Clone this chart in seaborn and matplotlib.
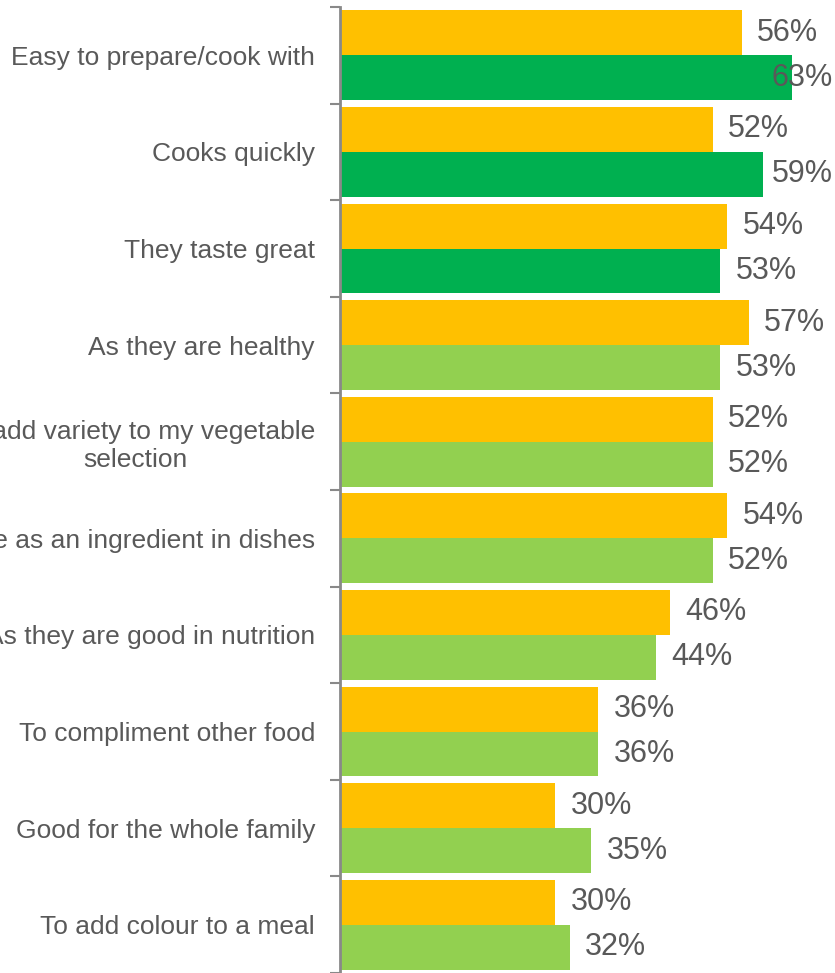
import numpy as np
import pandas as pd
import matplotlib
matplotlib.use("Agg")
import matplotlib.pyplot as plt
import seaborn as sns

# Reasons for buying, two survey waves
categories = [
    "Easy to prepare/cook with",
    "Cooks quickly",
    "They taste great",
    "As they are healthy",
    "To add variety to my vegetable\nselection",
    "To use as an ingredient in dishes",
    "As they are good in nutrition",
    "To compliment other food",
    "Good for the whole family",
    "To add colour to a meal",
]
series_names = ["Wave 1", "Wave 2"]
wave1 = [56, 52, 54, 57, 52, 54, 46, 36, 30, 30]
wave2 = [63, 59, 53, 53, 52, 52, 44, 36, 35, 32]
highlight_top = 3  # first rows of the second series drawn in dark green

ORANGE = "#FFC000"
DARK_GREEN = "#00B050"
LIGHT_GREEN = "#92D050"
TEXT = "#595959"
AXIS = "#898989"

df = pd.DataFrame({
    "reason": categories * 2,
    "series": [series_names[0]] * len(categories) + [series_names[1]] * len(categories),
    "value": wave1 + wave2,
})

sns.set_theme(style="white")
plt.rcParams["font.family"] = ["Liberation Sans", "DejaVu Sans"]

W, H = 835, 973
fig = plt.figure(figsize=(W / 100, H / 100), dpi=100)
ax = fig.add_axes([340 / W, 0.0, 1 - 340 / W, 1 - 7 / H])

sns.barplot(
    data=df, x="value", y="reason", hue="series", orient="h",
    order=categories, hue_order=series_names,
    palette=[ORANGE, LIGHT_GREEN], width=0.93, gap=0,
    saturation=1, ax=ax, legend=False, errorbar=None,
)

# Recolour the leading rows of the second series
for i, patch in enumerate(ax.containers[1]):
    if i < highlight_top:
        patch.set_facecolor(DARK_GREEN)
for cont in ax.containers:
    for patch in cont:
        patch.set_edgecolor("none")

xmax = 69.0
ax.set_xlim(0, xmax)
ax.set_ylim(len(categories) - 0.5, -0.5)

# Value labels; those that would run past the edge are pulled back inside
label_w = 10.6
for cont, vals in zip(ax.containers, [wave1, wave2]):
    for patch, v in zip(cont, vals):
        yc = patch.get_y() + patch.get_height() / 2
        if v + label_w > xmax:
            ax.text(xmax - 0.3, yc, f"{v}%", ha="right", va="center",
                    fontsize=22, color=TEXT)
        else:
            ax.annotate(f"{v}%", (v, yc), xytext=(11, 0),
                        textcoords="offset points", ha="left", va="center",
                        fontsize=22, color=TEXT)

# Tick marks at category boundaries, labels at centres
ax.set_yticks(np.arange(-0.5, len(categories), 1), labels=[])
ax.set_yticks(range(len(categories)), labels=categories, minor=True)
for lbl in ax.get_yticklabels(minor=True):
    lbl.set_multialignment("center")
ax.tick_params(axis="y", which="major", length=7, width=1.5, color=AXIS, left=True)
ax.tick_params(axis="y", which="minor", length=0, pad=18, labelsize=19, labelcolor=TEXT)
ax.set_xticks([])
ax.set_xlabel("")
ax.set_ylabel("")

for side in ["top", "right", "bottom"]:
    ax.spines[side].set_visible(False)
ax.spines["left"].set_color(AXIS)
ax.spines["left"].set_linewidth(2)

fig.savefig("out.png", dpi=100)
